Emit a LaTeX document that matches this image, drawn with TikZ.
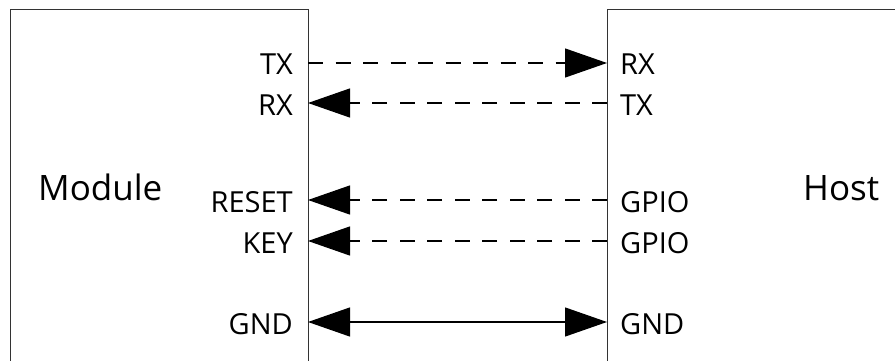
\documentclass[tikz,border=0pt]{standalone}
\usepackage{fontspec}
\setmainfont{Open Sans}
\usetikzlibrary{arrows.meta}
\definecolor{boxline}{HTML}{333333}
\tikzset{
  port/.style={font=\fontsize{29}{34}\selectfont, inner sep=0pt},
  title/.style={font=\fontsize{35}{41}\selectfont, inner sep=0pt},
  sig/.style={line width=1.2pt, black},
  dsig/.style={sig, dash pattern=on 15pt off 12.5pt},
  bigtip/.tip={Triangle[length=42pt,width=29pt]},
  tip/.style={-bigtip},
  blockbox/.style={draw=boxline, line width=1.4pt, rectangle, inner sep=0pt, anchor=north west}
}
\begin{document}
\begin{tikzpicture}[x=1pt,y=-1pt]
\useasboundingbox (0,0) rectangle (895,361);
\clip (0,0) rectangle (895,361);
\fill[white] (0,0) rectangle (895,361);
\node[blockbox, minimum width=298pt, minimum height=380pt] (module) at (10,9) {};
\node[blockbox, minimum width=320pt, minimum height=380pt] (host) at (607,9) {};
\node[title, anchor=base west] (mname) at (38,200) {Module};
\node[title, anchor=base west] (hname) at (803,200) {Host};
% coordinates on box edges
\coordinate (mtx) at (308,63);
\coordinate (mrx) at (308,103);
\coordinate (mrst) at (308,200);
\coordinate (mkey) at (308,241);
\coordinate (mgnd) at (308,322);
\coordinate (hrx) at (607,63);
\coordinate (htx) at (607,103);
\coordinate (hg1) at (607,200);
\coordinate (hg2) at (607,241);
\coordinate (hgnd) at (607,322);
% labels
\node[port, anchor=base east] (ltx) at (293,75) {TX};
\node[port, anchor=base east] (lrx) at (293,116) {RX};
\node[port, anchor=base east] (lrst) at (293,212) {RESET};
\node[port, anchor=base east] (lkey) at (293,253) {KEY};
\node[port, anchor=base east] (lgnd) at (293,334) {GND};
\node[port, anchor=base west] (rrx) at (620,75) {RX};
\node[port, anchor=base west] (rtx) at (620,116) {TX};
\node[port, anchor=base west] (rg1) at (620,212) {GPIO};
\node[port, anchor=base west] (rg2) at (620,253) {GPIO};
\node[port, anchor=base west] (rgnd) at (620,334) {GND};
% connectors
\draw[dsig, tip] (mtx) -- (hrx);
\draw[dsig, tip] (htx) -- (mrx);
\draw[dsig, tip] (hg1) -- (mrst);
\draw[dsig, tip] (hg2) -- (mkey);
\draw[sig, bigtip-bigtip] (mgnd) -- (hgnd);
\end{tikzpicture}
\end{document}
